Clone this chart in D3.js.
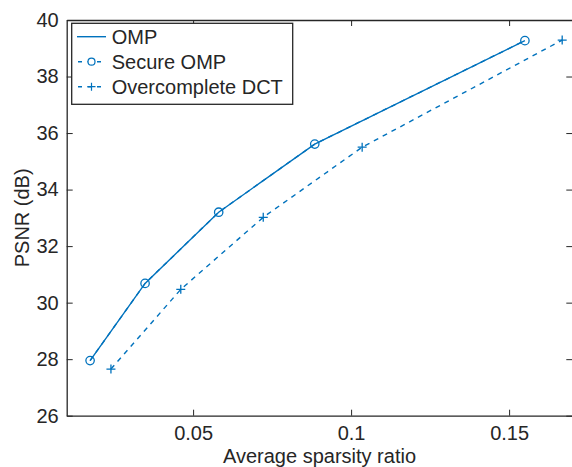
<!DOCTYPE html>
<html lang="en">
<head>
    <meta charset="UTF-8">
    <title>PSNR vs sparsity</title>
    <script src="https://cdnjs.cloudflare.com/ajax/libs/d3/7.8.4/d3.min.js"></script>
    <style>
        body { margin: 0; background: #fff; }
        svg { display: block; }
        text { font-family: "Liberation Sans", Arial, sans-serif; fill: #262626; }
    </style>
</head>
<body>
    <svg width="572" height="467"></svg>

    <script>
        // data
        const ompX = [0.0174, 0.0348, 0.0581, 0.0885, 0.155];
        const ompY = [27.95, 30.68, 33.20, 35.61, 39.27];
        const dctX = [0.0240, 0.0461, 0.0722, 0.1035, 0.1668];
        const dctY = [27.65, 30.47, 33.02, 35.50, 39.29];
        const xTicks = [0.05, 0.1, 0.15];
        const yTicks = [26, 28, 30, 32, 34, 36, 38, 40];
        const legendNames = ["OMP", "Secure OMP", "Overcomplete DCT"];

        const blue = "#0072BD";
        const axisCol = "#262626";

        const margin = { top: 20, left: 66.7, right: -0.3, bottom: 51.3 };
        const width = 572 - margin.left - margin.right;
        const height = 467 - margin.top - margin.bottom;

        const svg = d3.select("svg");
        const g = svg.append("g").attr("transform", `translate(${margin.left},${margin.top})`);

        const x = d3.scaleLinear().domain([0.01, 0.17]).range([0, width]);
        const y = d3.scaleLinear().domain([26, 40]).range([height, 0]);

        const fmt = d => String(d);

        // axes (box with inward ticks)
        const xAxisB = g.append("g").attr("transform", `translate(0,${height})`)
            .call(d3.axisBottom(x).tickValues(xTicks).tickFormat(fmt).tickSizeInner(-6).tickSizeOuter(0).tickPadding(10));
        const yAxisL = g.append("g")
            .call(d3.axisLeft(y).tickValues(yTicks).tickFormat(fmt).tickSizeInner(-6).tickSizeOuter(0).tickPadding(8));
        const xAxisT = g.append("g")
            .call(d3.axisTop(x).tickValues(xTicks).tickFormat("").tickSizeInner(-6).tickSizeOuter(0));
        const yAxisR = g.append("g").attr("transform", `translate(${width},0)`)
            .call(d3.axisRight(y).tickValues(yTicks).tickFormat("").tickSizeInner(-6).tickSizeOuter(0));

        [xAxisB, yAxisL, xAxisT, yAxisR].forEach(a => {
            a.select(".domain").attr("stroke", axisCol).attr("stroke-width", 1.3);
            a.selectAll(".tick line").attr("stroke", axisCol).attr("stroke-width", 1);
            a.selectAll(".tick text").style("font-size", "20px").attr("fill", axisCol);
        });

        // axis titles
        g.append("text")
            .attr("x", width / 2)
            .attr("y", height + 47)
            .attr("text-anchor", "middle")
            .style("font-size", "20px")
            .text("Average sparsity ratio");

        g.append("text")
            .attr("transform", `translate(${22 - margin.left},${height / 2}) rotate(-90)`)
            .attr("text-anchor", "middle")
            .attr("dy", "0.35em")
            .style("font-size", "20px")
            .text("PSNR (dB)");

        const line = d3.line().x(d => x(d[0])).y(d => y(d[1]));
        const omp = ompX.map((v, i) => [v, ompY[i]]);
        const dct = dctX.map((v, i) => [v, dctY[i]]);

        // OMP solid
        g.append("path").datum(omp)
            .attr("d", line).attr("fill", "none")
            .attr("stroke", blue).attr("stroke-width", 1.4);

        // Secure OMP (same values) dashed with circles
        g.append("path").datum(omp)
            .attr("d", line).attr("fill", "none")
            .attr("stroke", blue).attr("stroke-width", 1.4)
            .attr("stroke-dasharray", "5,5");
        g.selectAll("circle.pt").data(omp).enter().append("circle")
            .attr("class", "pt")
            .attr("cx", d => x(d[0])).attr("cy", d => y(d[1]))
            .attr("r", 4.2).attr("fill", "none")
            .attr("stroke", blue).attr("stroke-width", 1.3);

        // Overcomplete DCT dashed with pluses
        g.append("path").datum(dct)
            .attr("d", line).attr("fill", "none")
            .attr("stroke", blue).attr("stroke-width", 1.4)
            .attr("stroke-dasharray", "5,5");
        g.selectAll("path.plus").data(dct).enter().append("path")
            .attr("class", "plus")
            .attr("d", d => {
                const cx = x(d[0]), cy = y(d[1]), s = 4.5;
                return `M${cx - s},${cy}H${cx + s}M${cx},${cy - s}V${cy + s}`;
            })
            .attr("stroke", blue).attr("stroke-width", 1.3);

        // legend
        const lg = svg.append("g");
        lg.append("rect")
            .attr("x", 71.7).attr("y", 23.3)
            .attr("width", 221).attr("height", 81)
            .attr("fill", "#fff").attr("stroke", axisCol).attr("stroke-width", 1.3);

        const rowY = [36.7, 61.7, 86.7];
        legendNames.forEach((name, i) => {
            const cy = rowY[i];
            const seg = lg.append("line")
                .attr("x1", 77).attr("x2", 106).attr("y1", cy).attr("y2", cy)
                .attr("stroke", blue).attr("stroke-width", 1.4);
            if (i > 0) seg.attr("stroke-dasharray", "4,5.5").attr("x1", 78);
            if (i === 1) {
                lg.append("circle").attr("cx", 91.5).attr("cy", cy).attr("r", 3.5)
                    .attr("fill", "#fff").attr("stroke", blue).attr("stroke-width", 1.2);
            }
            if (i === 2) {
                lg.append("path")
                    .attr("d", `M87.5,${cy}H95.5M91.5,${cy - 4}V${cy + 4}`)
                    .attr("stroke", blue).attr("stroke-width", 1.2);
            }
            lg.append("text")
                .attr("x", 111.7).attr("y", cy)
                .attr("dy", "0.35em")
                .style("font-size", "20px")
                .text(name);
        });
    </script>
</body>
</html>
